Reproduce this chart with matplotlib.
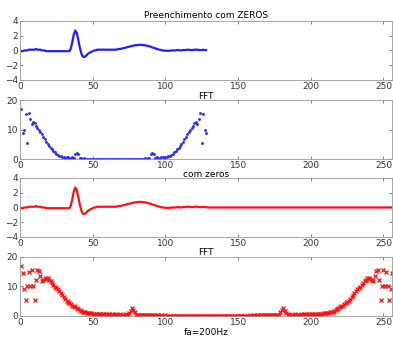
import numpy as np
import matplotlib
matplotlib.use("Agg")
import matplotlib.pyplot as plt

# ECG-like signal, 128 samples
sinal = [
    -0.1, -0.1, 0.0, 0.0, 0.0, 0.1, 0.1, 0.1, 0.1, 0.1, 0.2, 0.1, 0.1, 0.1, 0.0, 0.0,
    0.0, -0.1, -0.1, -0.1, -0.1, -0.1, -0.1, -0.1, -0.1, -0.1, -0.1, -0.1, -0.1, -0.1, -0.1, -0.1,
    -0.1, -0.1, 0.3, 1.2, 2.2, 2.7, 2.4, 1.5, 0.5, -0.3, -0.8, -0.9, -0.8, -0.6, -0.4, -0.3,
    -0.2, -0.1, 0.0, 0.0, 0.1, 0.1, 0.1, 0.1, 0.1, 0.1, 0.1, 0.1, 0.1, 0.1, 0.1, 0.1,
    0.1, 0.1, 0.15, 0.2, 0.2, 0.25, 0.3, 0.35, 0.4, 0.45, 0.5, 0.55, 0.6, 0.65, 0.7, 0.7,
    0.75, 0.75, 0.75, 0.75, 0.7, 0.7, 0.65, 0.6, 0.55, 0.5, 0.4, 0.35, 0.3, 0.2, 0.15, 0.1,
    0.05, 0.0, 0.0, -0.05, -0.05, -0.05, -0.05, 0.0, 0.0, 0.0, 0.0, 0.05, 0.05, 0.0, 0.0, 0.05,
    0.05, 0.05, 0.1, 0.1, 0.05, 0.05, 0.05, 0.1, 0.1, 0.1, 0.05, 0.05, 0.05, 0.1, 0.05, 0.05,
]

# same signal padded with zeros to 256 samples
sinal_zeros = sinal + [0.0] * 128

# |FFT| of the 128-sample signal
fft_128 = [
    17.0, 9.0, 10.0, 15.3, 5.5, 15.5, 13.5, 12.0, 12.5, 12.3, 11.3, 10.5, 9.8, 9.2, 8.4, 7.6,
    6.7, 5.8, 5.0, 4.4, 3.8, 3.3, 2.8, 2.3, 1.8, 1.5, 1.2, 0.9, 0.7, 0.6, 0.5, 0.7,
    0.6, 0.5, 0.4, 0.6, 0.3, 1.6, 2.1, 1.6, 0.4, 0.3, 0.2, 0.3, 0.2, 0.2, 0.2, 0.2,
    0.2, 0.2, 0.2, 0.2, 0.2, 0.2, 0.2, 0.2, 0.2, 0.2, 0.2, 0.2, 0.2, 0.2, 0.2, 0.2,
    0.1,
    0.2, 0.2, 0.2, 0.2, 0.2, 0.2, 0.2, 0.2, 0.2, 0.2, 0.2, 0.2, 0.2, 0.2, 0.2, 0.2,
    0.2, 0.2, 0.2, 0.2, 0.3, 0.2, 0.3, 0.4, 1.6, 2.1, 1.6, 0.3, 0.6, 0.4, 0.5, 0.6,
    0.7, 0.5, 0.6, 0.7, 0.9, 1.2, 1.5, 1.8, 2.3, 2.8, 3.3, 3.8, 4.4, 5.0, 5.8, 6.7,
    7.6, 8.4, 9.2, 9.8, 10.5, 11.3, 12.3, 12.5, 12.0, 13.5, 15.5, 5.5, 15.3, 10.0, 9.0,
]

# |FFT| of the zero-padded 256-sample signal
fft_256 = [
    17.0, 14.5, 9.0, 5.5, 10.0, 15.0, 10.0, 15.5, 10.0, 5.5, 12.0, 15.5, 15.3, 13.5, 11.8, 12.3,
    12.5, 12.8, 12.7, 12.3, 11.8, 11.2, 10.5, 9.8, 9.4, 9.0, 8.5, 7.8, 7.0, 6.3, 5.7, 5.2,
    4.7, 4.3, 3.9, 3.5, 3.2, 2.9, 2.6, 2.3, 2.0, 1.7, 1.4, 1.3, 1.2, 1.1, 1.0, 0.9,
    0.8, 0.7, 0.6, 0.6, 0.5, 0.6, 0.5, 0.4, 0.5, 0.6, 0.5, 0.4, 0.5, 0.4, 0.5, 0.4,
    0.5, 0.4, 0.3, 0.4, 0.5, 0.4, 0.3, 0.4, 0.5, 0.4, 1.0, 1.8, 2.5, 2.0, 1.2, 0.4,
    0.3, 0.3, 0.2, 0.3, 0.2, 0.3, 0.2, 0.2, 0.3, 0.2, 0.2, 0.2, 0.1, 0.2, 0.2, 0.1,
    0.2, 0.1, 0.1, 0.2, 0.1, 0.1, 0.1, 0.1, 0.1, 0.1, 0.1, 0.1, 0.1, 0.1, 0.1, 0.1,
    0.1, 0.1, 0.1, 0.1, 0.1, 0.1, 0.1, 0.1, 0.1, 0.1, 0.1, 0.1, 0.1, 0.1, 0.1, 0.1,
    0.1,
    0.1, 0.1, 0.1, 0.1, 0.1, 0.1, 0.1, 0.1, 0.1, 0.1, 0.1, 0.1, 0.1, 0.1, 0.1, 0.1,
    0.1, 0.1, 0.1, 0.1, 0.1, 0.1, 0.1, 0.1, 0.1, 0.1, 0.1, 0.1, 0.2, 0.1, 0.1, 0.2,
    0.1, 0.2, 0.2, 0.1, 0.2, 0.2, 0.2, 0.3, 0.2, 0.2, 0.3, 0.2, 0.3, 0.2, 0.3, 0.3,
    0.4, 1.2, 2.0, 2.5, 1.8, 1.0, 0.4, 0.5, 0.4, 0.3, 0.4, 0.5, 0.4, 0.3, 0.4, 0.5,
    0.4, 0.5, 0.4, 0.5, 0.4, 0.5, 0.6, 0.5, 0.4, 0.5, 0.6, 0.5, 0.6, 0.6, 0.7, 0.8,
    0.9, 1.0, 1.1, 1.2, 1.3, 1.4, 1.7, 2.0, 2.3, 2.6, 2.9, 3.2, 3.5, 3.9, 4.3, 4.7,
    5.2, 5.7, 6.3, 7.0, 7.8, 8.5, 9.0, 9.4, 9.8, 10.5, 11.2, 11.8, 12.3, 12.7, 12.8, 12.5,
    12.3, 11.8, 13.5, 15.3, 15.5, 12.0, 5.5, 10.0, 15.5, 10.0, 15.0, 10.0, 5.5, 9.0, 14.5,
]

xticks = [0, 50, 100, 150, 200, 250]
fs = 6.5
gray = "#555555"

fig = plt.figure(figsize=(3.93, 3.49), dpi=100)
left, width, h = 0.051, 0.947, 0.169
bottoms = [0.771, 0.544, 0.321, 0.095]
axes = [fig.add_axes([left, b, width, h]) for b in bottoms]

n1 = np.arange(1, len(sinal) + 1)
n2 = np.arange(1, len(sinal_zeros) + 1)

axes[0].plot(n1, sinal, color="#1f1fff", lw=1.6)
axes[0].set_ylim(-4, 4)
axes[0].set_yticks([-4, -2, 0, 2, 4])
axes[0].set_title("Preenchimento com ZEROS", fontsize=fs, pad=2)

axes[1].plot(np.arange(1, len(fft_128) + 1), fft_128, ".", color="#3030ff",
             ms=2.2)
axes[1].set_ylim(0, 20)
axes[1].set_yticks([0, 10, 20])
axes[1].set_title("FFT", fontsize=fs, pad=1)

axes[2].plot(n2, sinal_zeros, color="#ff1010", lw=1.6)
axes[2].set_ylim(-4, 4)
axes[2].set_yticks([-4, -2, 0, 2, 4])
axes[2].set_title("com zeros", fontsize=fs, pad=1)

axes[3].plot(np.arange(1, len(fft_256) + 1), fft_256, "x", color="#ff1010",
             ms=2.8, mew=0.9)
axes[3].set_ylim(0, 20)
axes[3].set_yticks([0, 10, 20])
axes[3].set_title("FFT", fontsize=fs, pad=1)
axes[3].set_xlabel("fa=200Hz", fontsize=fs, labelpad=1)

for ax in axes:
    ax.set_xlim(0, 256)
    ax.set_xticks(xticks)
    ax.tick_params(direction="in", length=2, width=0.5, labelsize=fs,
                   colors=gray, pad=1.5, top=True, right=True)
    ax.tick_params(labelcolor="#333333")
    for s in ax.spines.values():
        s.set_color("#999999")
        s.set_linewidth(0.6)

fig.savefig("out.png", dpi=100)
